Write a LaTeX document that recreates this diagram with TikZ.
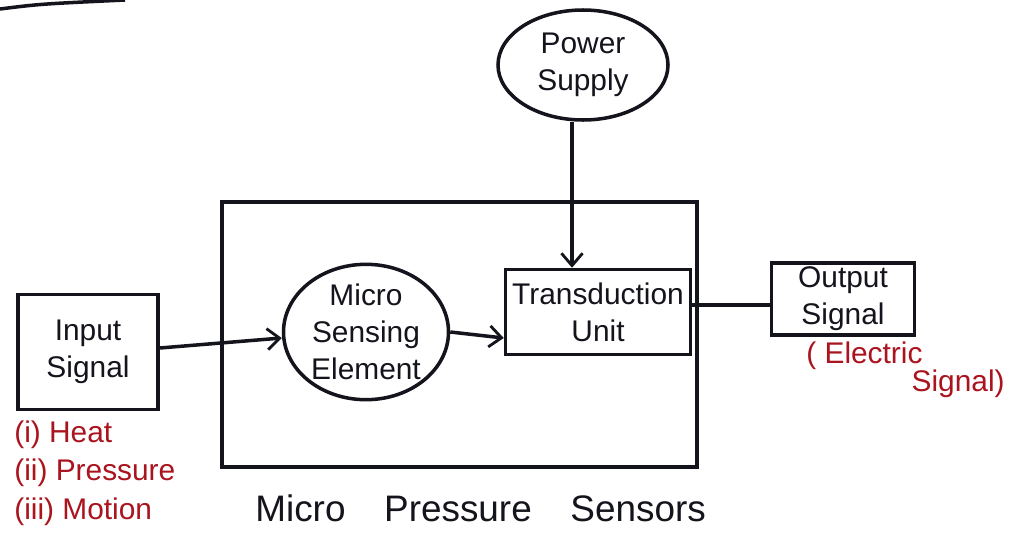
\documentclass[tikz,border=0pt]{standalone}
\usepackage{fontspec}
\setmainfont{Liberation Sans}
\usetikzlibrary{arrows.meta,shapes.geometric}
\definecolor{inkred}{RGB}{170,20,30}
\definecolor{ink}{RGB}{20,20,28}
\tikzset{
  pen/.style={draw=ink, line width=2pt},
  blockbox/.style={pen, rectangle, inner sep=0pt, align=center, font=\fontsize{17}{21}\selectfont, text=ink},
  blob/.style={pen, ellipse, inner sep=0pt, align=center, font=\fontsize{17}{21}\selectfont, text=ink},
  flow/.style={pen, -{Straight Barb[length=7pt,width=12pt,line width=1.6pt]}},
  note/.style={text=inkred, font=\fontsize{17}{21}\selectfont, align=left, inner sep=0pt},
  caption/.style={inner sep=0pt, text=ink, font=\fontsize{21}{25}\selectfont}
}
\begin{document}
\begin{tikzpicture}[x=0.02cm, y=-0.02cm]
\useasboundingbox[fill=white] (0,0) rectangle (1014,534);

% stroke along the page edge
\draw[pen] (0,9) .. controls (40,4) .. (125,0);

% enclosing sensor housing
\node[pen, rectangle, minimum width=475*0.02cm, minimum height=265*0.02cm, anchor=north west] (housing) at (220,200) {};

% blocks
\node[blockbox, minimum width=140*0.02cm, minimum height=115*0.02cm] (input) at (88,352) {Input\\Signal};
\node[blob, minimum width=165*0.02cm, minimum height=128*0.02cm] (mse) at (366,332) {Micro\\Sensing\\Element};
\node[blockbox, minimum width=185*0.02cm, minimum height=85*0.02cm] (tu) at (598,312) {Transduction\\Unit};
\node[blob, minimum width=170*0.02cm, minimum height=110*0.02cm] (ps) at (583,65) {Power\\Supply};
\node[blockbox, minimum width=143*0.02cm, minimum height=72*0.02cm] (out) at (843,299) {Output\\Signal};

% connectors
\draw[flow] (input.east |- 0,348) -- (mse.west |- 0,338);
\draw[flow] (mse.east) -- (tu.west |- 0,338);
\draw[flow] (ps.south -| 572,0) -- (tu.north -| 572,0);
\draw[pen] (tu.east |- 0,305) -- (out.west |- 0,305);

% signal annotations
\node[note, anchor=north west] (kinds) at (14,420) {(i) Heat\\[1pt](ii) Pressure\\[1pt](iii) Motion};
\node[note, anchor=north west] (elec) at (806,342) {( Electric};
\node[note, anchor=north east] (sig) at (1005,370) {Signal)};

% caption along the lower edge
\node[caption, anchor=north west] (cap) at (255,494) {Micro\hspace{22pt}Pressure\hspace{22pt}Sensors};
\end{tikzpicture}
\end{document}
